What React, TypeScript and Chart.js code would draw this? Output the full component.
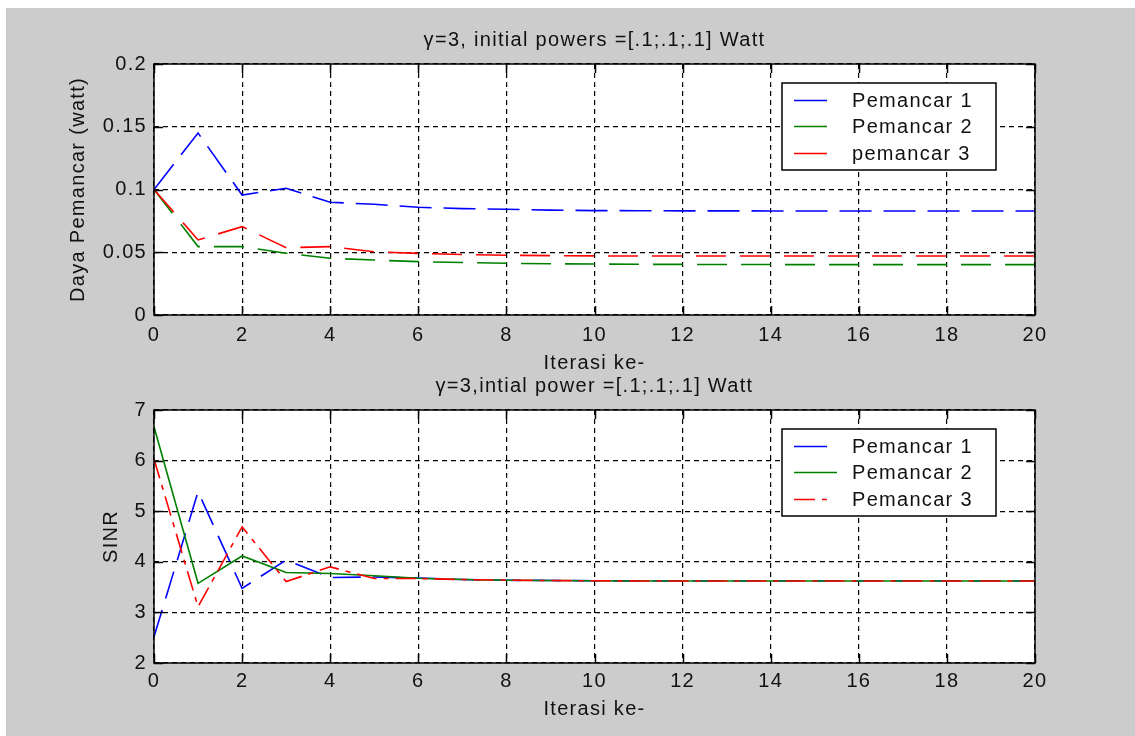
import React, { useEffect, useRef } from "react";
import { Chart, registerables } from "chart.js";

Chart.register(...registerables);

// ---------------- data ----------------
const iterations = [0, 1, 2, 3, 4, 5, 6, 7, 8, 9, 10, 11, 12, 13, 14, 15, 16, 17, 18, 19, 20];
const xTicks = [0, 2, 4, 6, 8, 10, 12, 14, 16, 18, 20];
const powerTicks = [0, 0.05, 0.1, 0.15, 0.2];
const sinrTicks = [2, 3, 4, 5, 6, 7];

const powerTx1 = [0.1, 0.145, 0.0956, 0.101, 0.0898, 0.0882, 0.0858, 0.0848, 0.0843, 0.0836, 0.0832, 0.0831, 0.083, 0.083, 0.0829, 0.0829, 0.0829, 0.0829, 0.0829, 0.0829, 0.0829];
const powerTx2 = [0.1, 0.0545, 0.0545, 0.0492, 0.0452, 0.0438, 0.0425, 0.0418, 0.0412, 0.0408, 0.0406, 0.0404, 0.0403, 0.0402, 0.0402, 0.0401, 0.0401, 0.0401, 0.0401, 0.0401, 0.0401];
const powerTx3 = [0.1, 0.0598, 0.0704, 0.0536, 0.0545, 0.0504, 0.0491, 0.0482, 0.0476, 0.0473, 0.0471, 0.047, 0.047, 0.047, 0.047, 0.047, 0.047, 0.047, 0.047, 0.047, 0.047];

const sinrTx1 = [2.52, 5.385, 3.476, 4.036, 3.69, 3.7, 3.68, 3.65, 3.635, 3.63, 3.625, 3.622, 3.62, 3.62, 3.62, 3.62, 3.62, 3.62, 3.62, 3.62, 3.62];
const sinrTx2 = [6.67, 3.575, 4.115, 3.79, 3.77, 3.725, 3.675, 3.65, 3.635, 3.63, 3.625, 3.622, 3.62, 3.62, 3.62, 3.62, 3.62, 3.62, 3.62, 3.62, 3.62];
const sinrTx3 = [6.03, 3.11, 4.69, 3.61, 3.9, 3.67, 3.67, 3.65, 3.635, 3.63, 3.625, 3.622, 3.62, 3.62, 3.62, 3.62, 3.62, 3.62, 3.62, 3.62, 3.62];

const topTitle = "γ=3, initial powers =[.1;.1;.1] Watt";
const bottomTitle = "γ=3,intial power =[.1;.1;.1] Watt";
const xLabel = "Iterasi ke-";
const topYLabel = "Daya Pemancar (watt)";
const bottomYLabel = "SINR";
const topLegend = ["Pemancar 1", "Pemancar 2", "pemancar 3"];
const bottomLegend = ["Pemancar 1", "Pemancar 2", "Pemancar 3"];

// ---------------- styles ----------------
const FONT_FAMILY = "'Liberation Sans', Arial, Helvetica, sans-serif";
const FONT_SIZE = 20;
const LETTER_SPACING = "1.3px";
const TEXT = "#111111";
const BLUE = "#0000ff";
const GREEN = "#008000";
const RED = "#ff0000";

type Series = { label: string; values: number[]; color: string; dash: number[]; sampleDash: number[]; sampleLen: number };
type Panel = {
  padding: { left: number; right: number; top: number; bottom: number };
  yWidth: number;
  xHeight: number;
  xTickPad: number;
  yTicks: number[];
  series: Series[];
  title: string;
  yLabel: string;
  yLabelX: number;
  xLabelOffset: number;
};

const topPanel: Panel = {
  padding: { left: 0, right: 100, top: 64, bottom: 361 },
  yWidth: 154,
  xHeight: 60,
  xTickPad: 8,
  yTicks: powerTicks,
  title: topTitle,
  yLabel: topYLabel,
  yLabelX: 78,
  xLabelOffset: 48,
  series: [
    { label: topLegend[0], values: powerTx1, color: BLUE, dash: [32, 12], sampleDash: [], sampleLen: 33 },
    { label: topLegend[1], values: powerTx2, color: GREEN, dash: [30, 14], sampleDash: [], sampleLen: 33 },
    { label: topLegend[2], values: powerTx3, color: RED, dash: [30, 14], sampleDash: [], sampleLen: 33 },
  ],
};

const bottomPanel: Panel = {
  padding: { left: 0, right: 100, top: 410, bottom: 33 },
  yWidth: 154,
  xHeight: 40,
  xTickPad: 6,
  yTicks: sinrTicks,
  title: bottomTitle,
  yLabel: bottomYLabel,
  yLabelX: 111,
  xLabelOffset: 46,
  series: [
    { label: bottomLegend[0], values: sinrTx1, color: BLUE, dash: [28, 12], sampleDash: [], sampleLen: 33 },
    { label: bottomLegend[1], values: sinrTx2, color: GREEN, dash: [], sampleDash: [], sampleLen: 43 },
    { label: bottomLegend[2], values: sinrTx3, color: RED, dash: [20, 7, 5, 7], sampleDash: [21, 7, 5, 7], sampleLen: 33 },
  ],
};

function fmt(v: number) {
  return String(+(+v).toFixed(3));
}

function framePlugin(p: Panel) {
  return {
    id: "matlabFrame",
    beforeDraw(chart: any) {
      const ctx = chart.ctx as any;
      ctx.letterSpacing = LETTER_SPACING;
      const a = chart.chartArea;
      ctx.save();
      ctx.fillStyle = "#ffffff";
      ctx.fillRect(a.left, a.top, a.right - a.left, a.bottom - a.top);
      ctx.restore();
    },
    afterDraw(chart: any) {
      const ctx = chart.ctx as any;
      const a = chart.chartArea;
      const xs = chart.scales.x;
      const ys = chart.scales.y;
      ctx.save();
      ctx.letterSpacing = LETTER_SPACING;
      // box
      ctx.strokeStyle = "#000";
      ctx.lineWidth = 1.5;
      ctx.setLineDash([]);
      ctx.strokeRect(a.left, a.top, a.right - a.left, a.bottom - a.top);
      // inward ticks
      const tl = 9;
      ctx.beginPath();
      xs.ticks.forEach((t: any) => {
        const px = Math.round(xs.getPixelForValue(t.value)) + 0.5;
        ctx.moveTo(px, a.bottom);
        ctx.lineTo(px, a.bottom - tl);
        ctx.moveTo(px, a.top);
        ctx.lineTo(px, a.top + tl);
      });
      ys.ticks.forEach((t: any) => {
        const py = Math.round(ys.getPixelForValue(t.value)) + 0.5;
        ctx.moveTo(a.left, py);
        ctx.lineTo(a.left + tl, py);
        ctx.moveTo(a.right, py);
        ctx.lineTo(a.right - tl, py);
      });
      ctx.stroke();

      // legend
      const bw = 214;
      const bh = 87;
      const bx = a.right - 39 - bw;
      const by = a.top + 19;
      ctx.fillStyle = "#ffffff";
      ctx.fillRect(bx, by, bw, bh);
      ctx.strokeStyle = "#000";
      ctx.lineWidth = 1.5;
      ctx.strokeRect(bx, by, bw, bh);
      const rows = [16.5, 43, 70];
      ctx.font = `${FONT_SIZE}px ${FONT_FAMILY}`;
      ctx.textAlign = "left";
      ctx.textBaseline = "middle";
      p.series.forEach((s, i) => {
        const ry = Math.round(by + rows[i]) + 0.5;
        ctx.strokeStyle = s.color;
        ctx.lineWidth = 1.5;
        ctx.setLineDash(s.sampleDash);
        ctx.beginPath();
        ctx.moveTo(bx + 12, ry);
        ctx.lineTo(bx + 12 + s.sampleLen, ry);
        ctx.stroke();
        ctx.setLineDash([]);
        ctx.fillStyle = TEXT;
        ctx.fillText(s.label, bx + 70, ry + 1);
      });

      // texts
      const cx = (a.left + a.right) / 2;
      ctx.fillStyle = TEXT;
      ctx.textAlign = "center";
      ctx.textBaseline = "middle";
      ctx.fillText(p.title, cx, a.top - 24);
      ctx.fillText(xLabel, cx, a.bottom + p.xLabelOffset);
      ctx.translate(p.yLabelX, (a.top + a.bottom) / 2);
      ctx.rotate(-Math.PI / 2);
      ctx.fillText(p.yLabel, 0, 0);
      ctx.restore();
    },
  };
}

function buildConfig(p: Panel): any {
  const font = { family: FONT_FAMILY, size: FONT_SIZE };
  const n = p.series.length;
  return {
    type: "line",
    data: {
      datasets: p.series.map((s, i) => ({
        label: s.label,
        data: iterations.map((x, k) => ({ x, y: s.values[k] })),
        borderColor: s.color,
        backgroundColor: s.color,
        borderWidth: 1.6,
        borderDash: s.dash,
        pointRadius: 0,
        fill: false,
        tension: 0,
        order: n - i,
      })),
    },
    options: {
      responsive: false,
      animation: false,
      devicePixelRatio: 1,
      events: [],
      layout: { padding: p.padding },
      plugins: {
        legend: { display: false },
        title: { display: false },
        tooltip: { enabled: false },
      },
      scales: {
        x: {
          type: "linear",
          min: 0,
          max: 20,
          afterBuildTicks: (s: any) => {
            s.ticks = xTicks.map((v) => ({ value: v }));
          },
          afterFit: (s: any) => {
            s.height = p.xHeight;
          },
          ticks: {
            autoSkip: false,
            maxRotation: 0,
            padding: p.xTickPad,
            color: TEXT,
            font,
            callback: (v: any) => fmt(v),
          },
          grid: { color: "#000", lineWidth: 1.2, drawTicks: false },
          border: { display: false, dash: [5, 4] },
        },
        y: {
          type: "linear",
          min: p.yTicks[0],
          max: p.yTicks[p.yTicks.length - 1],
          afterBuildTicks: (s: any) => {
            s.ticks = p.yTicks.map((v) => ({ value: v }));
          },
          afterFit: (s: any) => {
            s.width = p.yWidth;
          },
          ticks: {
            autoSkip: false,
            padding: 7,
            color: TEXT,
            font,
            callback: (v: any) => fmt(v),
          },
          grid: { color: "#000", lineWidth: 1.2, drawTicks: false },
          border: { display: false, dash: [5, 4] },
        },
      },
    },
    plugins: [framePlugin(p)],
  };
}

export default function App() {
  const topRef = useRef<HTMLCanvasElement>(null);
  const bottomRef = useRef<HTMLCanvasElement>(null);

  useEffect(() => {
    const c1 = new Chart(topRef.current as HTMLCanvasElement, buildConfig(topPanel));
    const c2 = new Chart(bottomRef.current as HTMLCanvasElement, buildConfig(bottomPanel));
    return () => {
      c1.destroy();
      c2.destroy();
    };
  }, []);

  const canvasStyle: React.CSSProperties = { position: "absolute", left: 0, top: 0, width: 1135, height: 736 };
  return (
    <div style={{ position: "absolute", left: 0, top: 0, width: 1135, height: 736, background: "#ffffff", overflow: "hidden" }}>
      <div style={{ position: "absolute", left: 6, top: 8, width: 1129, height: 728, background: "#cccccc" }} />
      <canvas ref={topRef} width={1135} height={736} style={canvasStyle} />
      <canvas ref={bottomRef} width={1135} height={736} style={canvasStyle} />
    </div>
  );
}
